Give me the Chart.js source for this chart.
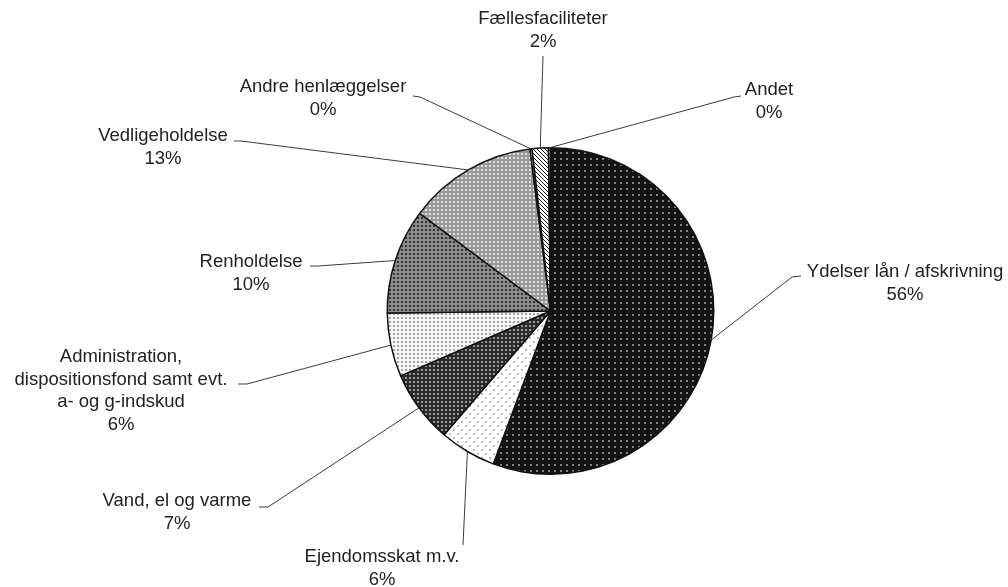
<!DOCTYPE html>
<html>
<head>
<meta charset="utf-8">
<script src="https://cdn.jsdelivr.net/npm/chart.js@4.4.0/dist/chart.umd.min.js"></script>
<style>
  html, body { margin: 0; padding: 0; background: #fff; }
  #wrap { width: 1008px; height: 587px; position: relative; }
</style>
</head>
<body>
<div id="wrap"><canvas id="pie" width="1008" height="587"></canvas></div>
<script>
// data, clockwise from 12 o'clock
var categories = [
  'Ydelser lån / afskrivning',
  'Ejendomsskat m.v.',
  'Vand, el og varme',
  'Administration,\ndispositionsfond samt evt.\na- og g-indskud',
  'Renholdelse',
  'Vedligeholdelse',
  'Andre henlæggelser',
  'Fællesfaciliteter',
  'Andet'
];
var values = [55.7, 5.6, 7.2, 6.3, 10.4, 12.8, 0.2, 1.6, 0.2];

// label layout: text centre x, first line y, path from text to slice
var labelPos = [
  { x: 905, y: 272, path: [[801, 276], [792, 277]] },
  { x: 382, y: 557, path: [[463, 545]] },
  { x: 177, y: 501, path: [[259, 507], [268, 507]] },
  { x: 121, y: 357, path: [[238, 384], [247, 384]] },
  { x: 251, y: 262, path: [[310, 266], [318, 266]] },
  { x: 163, y: 136, path: [[234, 141], [241, 141]] },
  { x: 323, y: 87, path: [[413, 96], [420, 97]] },
  { x: 543, y: 19, path: [[543, 56]] },
  { x: 769, y: 90, path: [[741, 96], [734, 97]] }
];

function makePattern(size, bg, draw) {
  var c = document.createElement('canvas');
  c.width = size; c.height = size;
  var g = c.getContext('2d');
  g.fillStyle = bg;
  g.fillRect(0, 0, size, size);
  draw(g);
  return document.getElementById('pie').getContext('2d').createPattern(c, 'repeat');
}
function dots(color, pts, r) {
  return function (g) {
    g.fillStyle = color;
    pts.forEach(function (p) {
      g.beginPath(); g.arc(p[0], p[1], r, 0, Math.PI * 2); g.fill();
    });
  };
}

var fills = [
  makePattern(6, '#141414', dots('#b8b8b8', [[3, 3]], 0.9)),
  makePattern(8, '#ffffff', dots('#9a9a9a', [[2, 2], [6, 6]], 0.9)),
  makePattern(4, '#2a2a2a', dots('#d0d0d0', [[2, 2]], 0.9)),
  makePattern(4, '#f6f6f6', dots('#909090', [[2, 2]], 1.1)),
  makePattern(4, '#8c8c8c', dots('#1e1e1e', [[2, 2]], 1.1)),
  makePattern(4, '#999999', dots('#f4f4f4', [[2, 2]], 1.1)),
  makePattern(4, '#ffffff', dots('#555', [[2, 2]], 1.0)),
  makePattern(4, '#ffffff', function (g) {
    g.strokeStyle = '#222'; g.lineWidth = 1;
    g.beginPath(); g.moveTo(0, 0); g.lineTo(4, 4); g.stroke();
    g.beginPath(); g.moveTo(-2, 2); g.lineTo(2, 6); g.stroke();
    g.beginPath(); g.moveTo(2, -2); g.lineTo(6, 2); g.stroke();
  }),
  makePattern(4, '#ffffff', dots('#555', [[2, 2]], 1.0))
];

var total = values.reduce(function (a, b) { return a + b; }, 0);

var labelPlugin = {
  id: 'leaderLabels',
  afterDatasetsDraw: function (chart) {
    var ctx = chart.ctx;
    var meta = chart.getDatasetMeta(0);
    ctx.save();
    meta.data.forEach(function (arc, i) {
      var p = arc.getProps(['x', 'y', 'startAngle', 'endAngle', 'outerRadius'], true);
      var mid = (p.startAngle + p.endAngle) / 2;
      var ax = p.x + Math.cos(mid) * p.outerRadius;
      var ay = p.y + Math.sin(mid) * p.outerRadius;
      var lp = labelPos[i];

      ctx.strokeStyle = '#3a3a3a';
      ctx.lineWidth = 1;
      ctx.beginPath();
      ctx.moveTo(lp.path[0][0], lp.path[0][1]);
      for (var k = 1; k < lp.path.length; k++) ctx.lineTo(lp.path[k][0], lp.path[k][1]);
      ctx.lineTo(ax, ay);
      ctx.stroke();

      var lines = categories[i].split('\n');
      lines.push(Math.round(values[i] / total * 100) + '%');
      ctx.fillStyle = '#222';
      ctx.font = '18.5px "Liberation Sans", Arial, sans-serif';
      ctx.textAlign = 'center';
      ctx.textBaseline = 'middle';
      lines.forEach(function (t, j) {
        ctx.fillText(t, lp.x, lp.y + j * 22.6);
      });
    });
    ctx.restore();
  }
};

new Chart(document.getElementById('pie'), {
  type: 'pie',
  data: {
    labels: categories,
    datasets: [{
      data: values,
      backgroundColor: fills,
      borderColor: '#111',
      borderWidth: 1.5
    }]
  },
  options: {
    responsive: false,
    animation: false,
    layout: { padding: { left: 386, right: 293, top: 147, bottom: 112 } },
    plugins: {
      legend: { display: false },
      tooltip: { enabled: false }
    }
  },
  plugins: [labelPlugin]
});
</script>
</body>
</html>
